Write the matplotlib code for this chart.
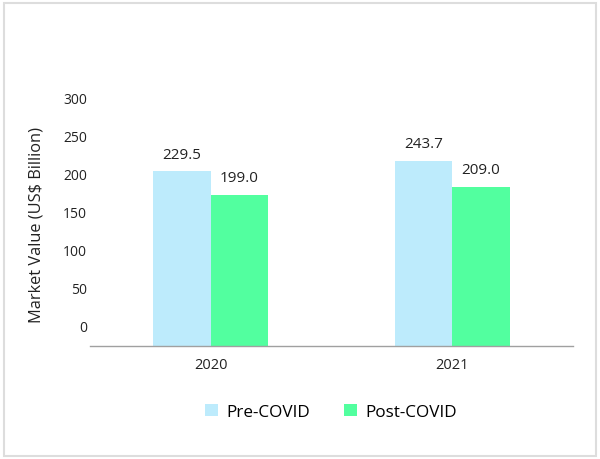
import matplotlib
matplotlib.use("Agg")
import matplotlib.pyplot as plt
import matplotlib.transforms as mtransforms
from matplotlib.patches import Rectangle
import numpy as np

years = ["2020", "2021"]
pre_covid = [229.5, 243.7]
post_covid = [199.0, 209.0]
yticks = [0, 50, 100, 150, 200, 250, 300]
series_names = ["Pre-COVID", "Post-COVID"]
colors = ["#BDEBFC", "#52FF9F"]

plt.rcParams['font.family'] = ['Open Sans', 'DejaVu Sans']

fig = plt.figure(figsize=(6, 4.6), dpi=100)
fig.patches.append(Rectangle((4/600, 3/460), 592/600, 453/460, transform=fig.transFigure,
                             fill=False, edgecolor="#dddddd", linewidth=1.5))

ax = fig.add_axes([90/600, (460-347)/460, 483/600, 267/460])
x = np.arange(len(years))
w = 0.238
b1 = ax.bar(x - w/2, pre_covid, w, color=colors[0], label=series_names[0])
b2 = ax.bar(x + w/2, post_covid, w, color=colors[1], label=series_names[1])

for bars, vals in ((b1, pre_covid), (b2, post_covid)):
    for r, v in zip(bars, vals):
        ax.annotate(f"{v:.1f}", (r.get_x() + r.get_width()/2, v), xytext=(0, 7),
                    textcoords="offset points", ha="center", va="bottom",
                    fontsize=11, color="#222222")

ax.set_xlim(-0.5, 1.5)
ax.set_ylim(0, 351)
ax.set_xticks(x)
ax.set_xticklabels(years, fontsize=10.5, color="#222222")
ax.set_yticks(yticks)
ax.set_yticklabels([str(t) for t in yticks], fontsize=10, color="#222222")
ax.tick_params(axis="both", length=0)
ax.tick_params(axis="y", pad=2)
ax.tick_params(axis="x", pad=8)
shift = mtransforms.ScaledTranslation(0, 0.20, fig.dpi_scale_trans)
for lbl in ax.get_yticklabels():
    lbl.set_transform(lbl.get_transform() + shift)

for s in ["top", "right", "left"]:
    ax.spines[s].set_visible(False)
ax.spines["bottom"].set_color("#a0a0a0")
ax.spines["bottom"].set_linewidth(1)

fig.text(37/600, 1 - 225/460, "Market Value (US$ Billion)", rotation=90,
         ha="center", va="center", fontsize=11.8, color="#222222")

fig.legend(handles=[b1, b2], labels=series_names, loc="center",
           bbox_to_anchor=(331/600, 1 - 413/460), ncol=2, frameon=False,
           fontsize=12.3, handlelength=0.75, handleheight=0.75, columnspacing=2.0,
           handletextpad=0.5)

fig.savefig("out.png", dpi=100)
